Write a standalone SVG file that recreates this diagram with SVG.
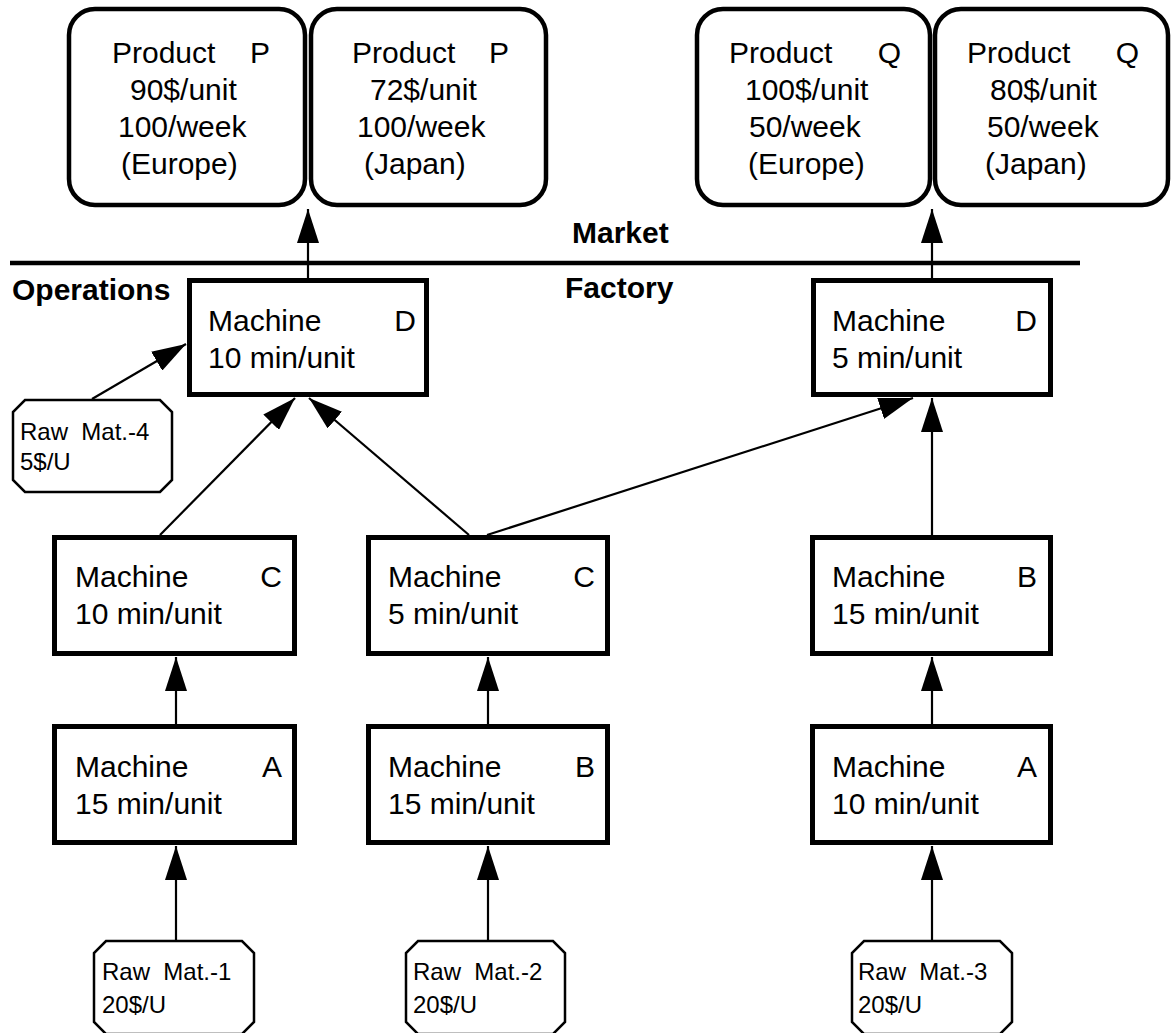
<svg xmlns="http://www.w3.org/2000/svg" width="1172" height="1033" viewBox="0 0 1172 1033">
  <defs>
    <marker id="arrow" viewBox="0 0 34 22" markerWidth="34" markerHeight="22" refX="34" refY="11" markerUnits="userSpaceOnUse" orient="auto">
      <path d="M0,0 L34,11 L0,22 z" fill="#000"/>
    </marker>
    <style>
      text { font-family: "Liberation Sans", Arial, sans-serif; fill: #000; }
      .t { font-size: 30px; }
      .b { font-size: 30px; font-weight: bold; }
      .r { font-size: 24px; }
      .end { text-anchor: end; }
      .prod { fill: #fff; stroke: #000; stroke-width: 4.5; }
      .mach { fill: #fff; stroke: #000; stroke-width: 5; }
      .raw { fill: #fff; stroke: #000; stroke-width: 2.5; }
      .edge { fill: none; stroke: #000; stroke-width: 2.2; marker-end: url(#arrow); }
    </style>
  </defs>
  <rect width="1172" height="1033" fill="#fff"/>

  <!-- Market / Factory boundary -->
  <g id="boundary">
    <line x1="10" y1="263" x2="1080" y2="263" stroke="#000" stroke-width="4.5"/>
    <text class="b" x="572" y="243">Market</text>
    <text class="b" x="565" y="298">Factory</text>
    <text class="b" x="12" y="300">Operations</text>
  </g>

  <!-- Connectors -->
  <g id="connectors">
    <line class="edge" x1="176" y1="940" x2="176" y2="846"/>
    <line class="edge" x1="488" y1="940" x2="488" y2="846"/>
    <line class="edge" x1="932" y1="940" x2="932" y2="846"/>
    <line class="edge" x1="176" y1="724" x2="176" y2="657"/>
    <line class="edge" x1="488" y1="724" x2="488" y2="657"/>
    <line class="edge" x1="932" y1="724" x2="932" y2="657"/>
    <line class="edge" x1="932" y1="535" x2="932" y2="398"/>
    <line class="edge" x1="160" y1="535" x2="295" y2="398"/>
    <line class="edge" x1="469" y1="535" x2="309" y2="398"/>
    <line class="edge" x1="487" y1="535" x2="913" y2="398"/>
    <line class="edge" x1="92" y1="399" x2="186" y2="344"/>
    <line class="edge" x1="308" y1="278" x2="308" y2="209"/>
    <line class="edge" x1="932" y1="278" x2="932" y2="209"/>
  </g>

  <!-- Market products -->
  <g id="product-p-europe">
    <rect class="prod" x="69" y="9" width="236" height="196" rx="26"/>
    <text class="t" x="112" y="63">Product</text>
    <text class="t end" x="270" y="63">P</text>
    <text class="t" x="130" y="100">90$/unit</text>
    <text class="t" x="118" y="137">100/week</text>
    <text class="t" x="121" y="174">(Europe)</text>
  </g>
  <g id="product-p-japan">
    <rect class="prod" x="311" y="9" width="235" height="196" rx="26"/>
    <text class="t" x="352" y="63">Product</text>
    <text class="t end" x="509" y="63">P</text>
    <text class="t" x="370" y="100">72$/unit</text>
    <text class="t" x="357" y="137">100/week</text>
    <text class="t" x="364" y="174">(Japan)</text>
  </g>
  <g id="product-q-europe">
    <rect class="prod" x="697" y="9" width="233" height="196" rx="26"/>
    <text class="t" x="729" y="63">Product</text>
    <text class="t end" x="901" y="63">Q</text>
    <text class="t" x="745" y="100">100$/unit</text>
    <text class="t" x="749" y="137">50/week</text>
    <text class="t" x="748" y="174">(Europe)</text>
  </g>
  <g id="product-q-japan">
    <rect class="prod" x="935" y="9" width="233" height="196" rx="26"/>
    <text class="t" x="967" y="63">Product</text>
    <text class="t end" x="1139" y="63">Q</text>
    <text class="t" x="990" y="100">80$/unit</text>
    <text class="t" x="987" y="137">50/week</text>
    <text class="t" x="985" y="174">(Japan)</text>
  </g>

  <!-- Machines -->
  <g id="machine-d-left">
    <rect class="mach" x="189.5" y="280.5" width="237" height="114"/>
    <text class="t" x="208" y="331">Machine</text>
    <text class="t end" x="416" y="331">D</text>
    <text class="t" x="208" y="368">10 min/unit</text>
  </g>
  <g id="machine-d-right">
    <rect class="mach" x="813.5" y="280.5" width="237" height="114"/>
    <text class="t" x="832" y="331">Machine</text>
    <text class="t end" x="1037" y="331">D</text>
    <text class="t" x="832" y="368">5 min/unit</text>
  </g>
  <g id="machine-c-left">
    <rect class="mach" x="54.5" y="537.5" width="240" height="116"/>
    <text class="t" x="75" y="587">Machine</text>
    <text class="t end" x="282" y="587">C</text>
    <text class="t" x="75" y="624">10 min/unit</text>
  </g>
  <g id="machine-c-mid">
    <rect class="mach" x="368.5" y="537.5" width="239" height="116"/>
    <text class="t" x="388" y="587">Machine</text>
    <text class="t end" x="595" y="587">C</text>
    <text class="t" x="388" y="624">5 min/unit</text>
  </g>
  <g id="machine-b-right">
    <rect class="mach" x="812.5" y="537.5" width="238" height="116"/>
    <text class="t" x="832" y="587">Machine</text>
    <text class="t end" x="1037" y="587">B</text>
    <text class="t" x="832" y="624">15 min/unit</text>
  </g>
  <g id="machine-a-left">
    <rect class="mach" x="54.5" y="726.5" width="240" height="116"/>
    <text class="t" x="75" y="777">Machine</text>
    <text class="t end" x="282" y="777">A</text>
    <text class="t" x="75" y="814">15 min/unit</text>
  </g>
  <g id="machine-b-mid">
    <rect class="mach" x="368.5" y="726.5" width="239" height="116"/>
    <text class="t" x="388" y="777">Machine</text>
    <text class="t end" x="595" y="777">B</text>
    <text class="t" x="388" y="814">15 min/unit</text>
  </g>
  <g id="machine-a-right">
    <rect class="mach" x="812.5" y="726.5" width="238" height="116"/>
    <text class="t" x="832" y="777">Machine</text>
    <text class="t end" x="1037" y="777">A</text>
    <text class="t" x="832" y="814">10 min/unit</text>
  </g>

  <!-- Raw materials (cut-corner boxes) -->
  <g id="raw-mat-4">
    <path class="raw" d="M25,400 L160,400 L172,412 L172,480 L160,492 L25,492 L13,480 L13,412 z"/>
    <text class="r" x="20" y="440" xml:space="preserve">Raw  Mat.-4</text>
    <text class="r" x="20" y="470">5$/U</text>
  </g>
  <g id="raw-mat-1">
    <path class="raw" d="M106,941 L242,941 L254,953 L254,1022 L242,1034 L106,1034 L94,1022 L94,953 z"/>
    <text class="r" x="102" y="980" xml:space="preserve">Raw  Mat.-1</text>
    <text class="r" x="102" y="1013">20$/U</text>
  </g>
  <g id="raw-mat-2">
    <path class="raw" d="M418,941 L553,941 L565,953 L565,1022 L553,1034 L418,1034 L406,1022 L406,953 z"/>
    <text class="r" x="413" y="980" xml:space="preserve">Raw  Mat.-2</text>
    <text class="r" x="413" y="1013">20$/U</text>
  </g>
  <g id="raw-mat-3">
    <path class="raw" d="M864,941 L1000,941 L1012,953 L1012,1022 L1000,1034 L864,1034 L852,1022 L852,953 z"/>
    <text class="r" x="858" y="980" xml:space="preserve">Raw  Mat.-3</text>
    <text class="r" x="858" y="1013">20$/U</text>
  </g>
</svg>
